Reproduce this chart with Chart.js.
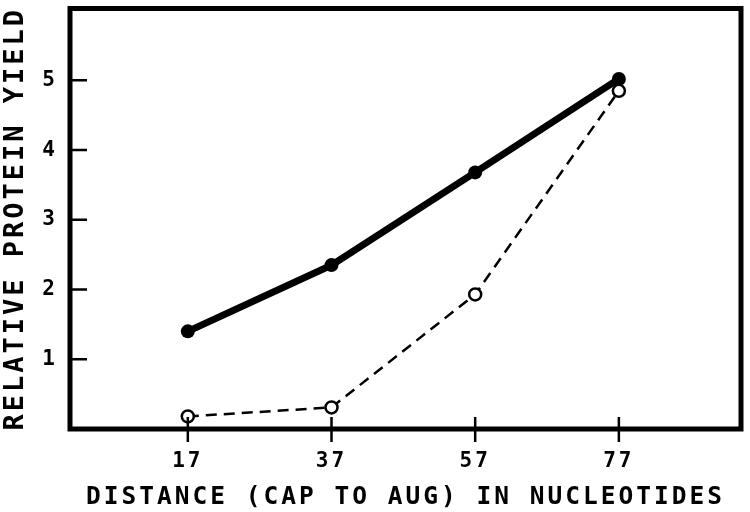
<!DOCTYPE html>
<html>
<head>
<meta charset="utf-8">
<script src="https://cdn.jsdelivr.net/npm/chart.js@4"></script>
<style>
  body { margin: 0; background: #fff; }
</style>
</head>
<body>
<canvas id="myChart" width="750" height="512"></canvas>
<script>
const distances = [17, 37, 57, 77];
const solidYield = [1.4, 2.35, 3.68, 5.02];
const dashedYield = [0.18, 0.31, 1.93, 4.85];
const xTicks = [17, 37, 57, 77];
const yTicks = [1, 2, 3, 4, 5];

const FONT = "'DejaVu Sans Mono', monospace";

const framePlugin = {
  id: "frame",
  beforeDraw(chart) {
    chart.ctx.letterSpacing = "3px";
  },
  afterDraw(chart) {
    const ctx = chart.ctx;
    const a = chart.chartArea;
    const x = chart.scales.x;
    const y = chart.scales.y;
    ctx.save();
    ctx.strokeStyle = "#000";
    ctx.lineWidth = 5;
    ctx.strokeRect(a.left, a.top, a.right - a.left, a.bottom - a.top);
    ctx.lineWidth = 2.5;
    ctx.beginPath();
    yTicks.forEach(v => {
      const py = y.getPixelForValue(v);
      ctx.moveTo(a.left, py);
      ctx.lineTo(a.left + 17, py);
    });
    xTicks.forEach(v => {
      const px = x.getPixelForValue(v);
      ctx.moveTo(px, a.bottom - 12);
      ctx.lineTo(px, a.bottom + 13);
    });
    ctx.stroke();
    ctx.restore();
  }
};

const data = {
  datasets: [{
    label: "solid",
    data: distances.map((d, i) => ({ x: d, y: solidYield[i] })),
    borderColor: "#000",
    backgroundColor: "#000",
    borderWidth: 7,
    pointRadius: 7,
    pointBorderWidth: 0,
    pointBackgroundColor: "#000"
  }, {
    label: "dashed",
    data: distances.map((d, i) => ({ x: d, y: dashedYield[i] })),
    borderColor: "#000",
    borderWidth: 2.5,
    borderDash: [11, 7],
    pointRadius: 6,
    pointBorderWidth: 2.5,
    pointBorderColor: "#000",
    pointBackgroundColor: "#fff"
  }]
};

const config = {
  type: "line",
  data: data,
  options: {
    responsive: false,
    animation: false,
    layout: { padding: { top: 8, right: 9, left: 0, bottom: 0 } },
    plugins: {
      legend: { display: false },
      tooltip: { enabled: false }
    },
    scales: {
      x: {
        type: "linear",
        min: 0.6,
        max: 94,
        afterBuildTicks: scale => { scale.ticks = xTicks.map(v => ({ value: v })); },
        afterFit: scale => {
          scale.height = 83;
          scale.paddingLeft = 0;
          scale.paddingRight = 0;
        },
        grid: { display: false, drawTicks: false },
        border: { display: false },
        ticks: {
          padding: 20,
          color: "#000",
          font: { family: FONT, size: 21, weight: "bold" }
        },
        title: {
          display: true,
          text: "DISTANCE (CAP TO AUG) IN NUCLEOTIDES",
          color: "#000",
          font: { family: FONT, size: 24.5, weight: "bold" },
          padding: { top: 0, bottom: 0 }
        }
      },
      y: {
        min: 0,
        max: 6.03,
        afterBuildTicks: scale => { scale.ticks = yTicks.map(v => ({ value: v })); },
        afterFit: scale => {
          scale.width = 70;
          scale.paddingTop = 0;
          scale.paddingBottom = 0;
        },
        grid: { display: false, drawTicks: false },
        border: { display: false },
        ticks: {
          padding: 12,
          color: "#000",
          font: { family: FONT, size: 21, weight: "bold" }
        },
        title: {
          display: true,
          text: "RELATIVE PROTEIN YIELD",
          color: "#000",
          font: { family: FONT, size: 27, weight: "bold" },
          padding: { top: 0, bottom: 0 }
        }
      }
    }
  },
  plugins: [framePlugin]
};

const myChart = new Chart(document.getElementById("myChart"), config);
</script>
</body>
</html>
